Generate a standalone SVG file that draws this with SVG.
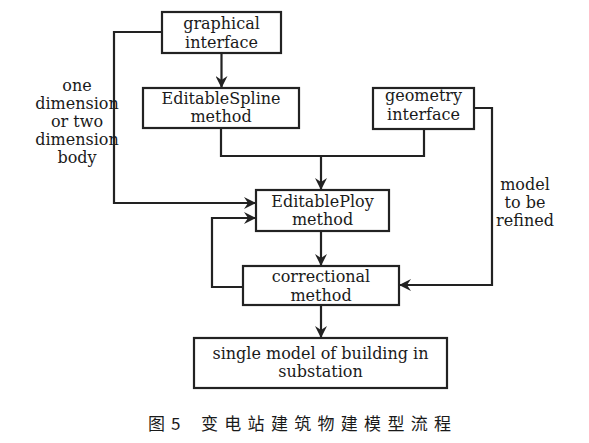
<svg xmlns="http://www.w3.org/2000/svg" width="589" height="443" viewBox="0 0 589 443">
<style>
.box{fill:#fff;stroke:#222;stroke-width:2.2}
.t{font-family:"DejaVu Serif","Liberation Serif",serif;font-size:16px;fill:#1a1a1a;text-anchor:middle}
.c{fill:none;stroke:#222;stroke-width:2.2}
.cap{font-family:"Noto Sans CJK SC",sans-serif;font-size:17px;fill:#1a1a1a}
</style>
<defs>
<marker id="ah" markerUnits="userSpaceOnUse" markerWidth="12" markerHeight="12" viewBox="0 0 12 12" refX="12" refY="6" orient="auto">
<path d="M0,0 L12,6 L0,12 L4,6 z" fill="#222"/>
</marker>
</defs>
<rect width="589" height="443" fill="#fff"/>
<g id="connectors">
<path class="c" d="M221.5,53 V88" marker-end="url(#ah)"/>
<path class="c" d="M221,128 V156 H424 V129"/>
<path class="c" d="M321,156 V190" marker-end="url(#ah)"/>
<path class="c" d="M162,32 H114 V203 H256" marker-end="url(#ah)"/>
<path class="c" d="M243,287 H212 V218 H256" marker-end="url(#ah)"/>
<path class="c" d="M321,231 V266" marker-end="url(#ah)"/>
<path class="c" d="M474,108 H492 V285 H399" marker-end="url(#ah)"/>
<path class="c" d="M321,305 V338" marker-end="url(#ah)"/>
</g>
<g id="n1"><rect class="box" x="162" y="12" width="119" height="41"/>
<text class="t" x="221.5" y="29">graphical</text><text class="t" x="221.5" y="47.5">interface</text></g>
<g id="n2"><rect class="box" x="143" y="88" width="156" height="40"/>
<text class="t" x="221" y="103.5">EditableSpline</text><text class="t" x="221" y="121.5">method</text></g>
<g id="n3"><rect class="box" x="373" y="88" width="101" height="41"/>
<text class="t" x="423.5" y="100.5">geometry</text><text class="t" x="423.5" y="119.5">interface</text></g>
<g id="n4"><rect class="box" x="256" y="190" width="133" height="41"/>
<text class="t" x="322.5" y="207">EditablePloy</text><text class="t" x="322.5" y="225">method</text></g>
<g id="n5"><rect class="box" x="243" y="266" width="156" height="39"/>
<text class="t" x="321" y="282">correctional</text><text class="t" x="321" y="300.8">method</text></g>
<g id="n6"><rect class="box" x="194" y="338" width="253" height="50"/>
<text class="t" x="320.5" y="358.5">single model of building in</text><text class="t" x="320.5" y="376.5">substation</text></g>
<g id="labels">
<text class="t" x="77" y="90.5">one</text>
<text class="t" x="77" y="108.5">dimension</text>
<text class="t" x="77" y="126.5">or two</text>
<text class="t" x="77" y="145">dimension</text>
<text class="t" x="77" y="163">body</text>
<text class="t" x="525" y="190">model</text>
<text class="t" x="525" y="208">to be</text>
<text class="t" x="525" y="226">refined</text>
</g>
<g id="caption">
<text class="cap" x="148" y="430">图</text>
<text class="cap" x="171" y="430">5</text>
<text class="cap" x="201" y="430" letter-spacing="6.3">变电站建筑物建模型流程</text>
</g>
</svg>
